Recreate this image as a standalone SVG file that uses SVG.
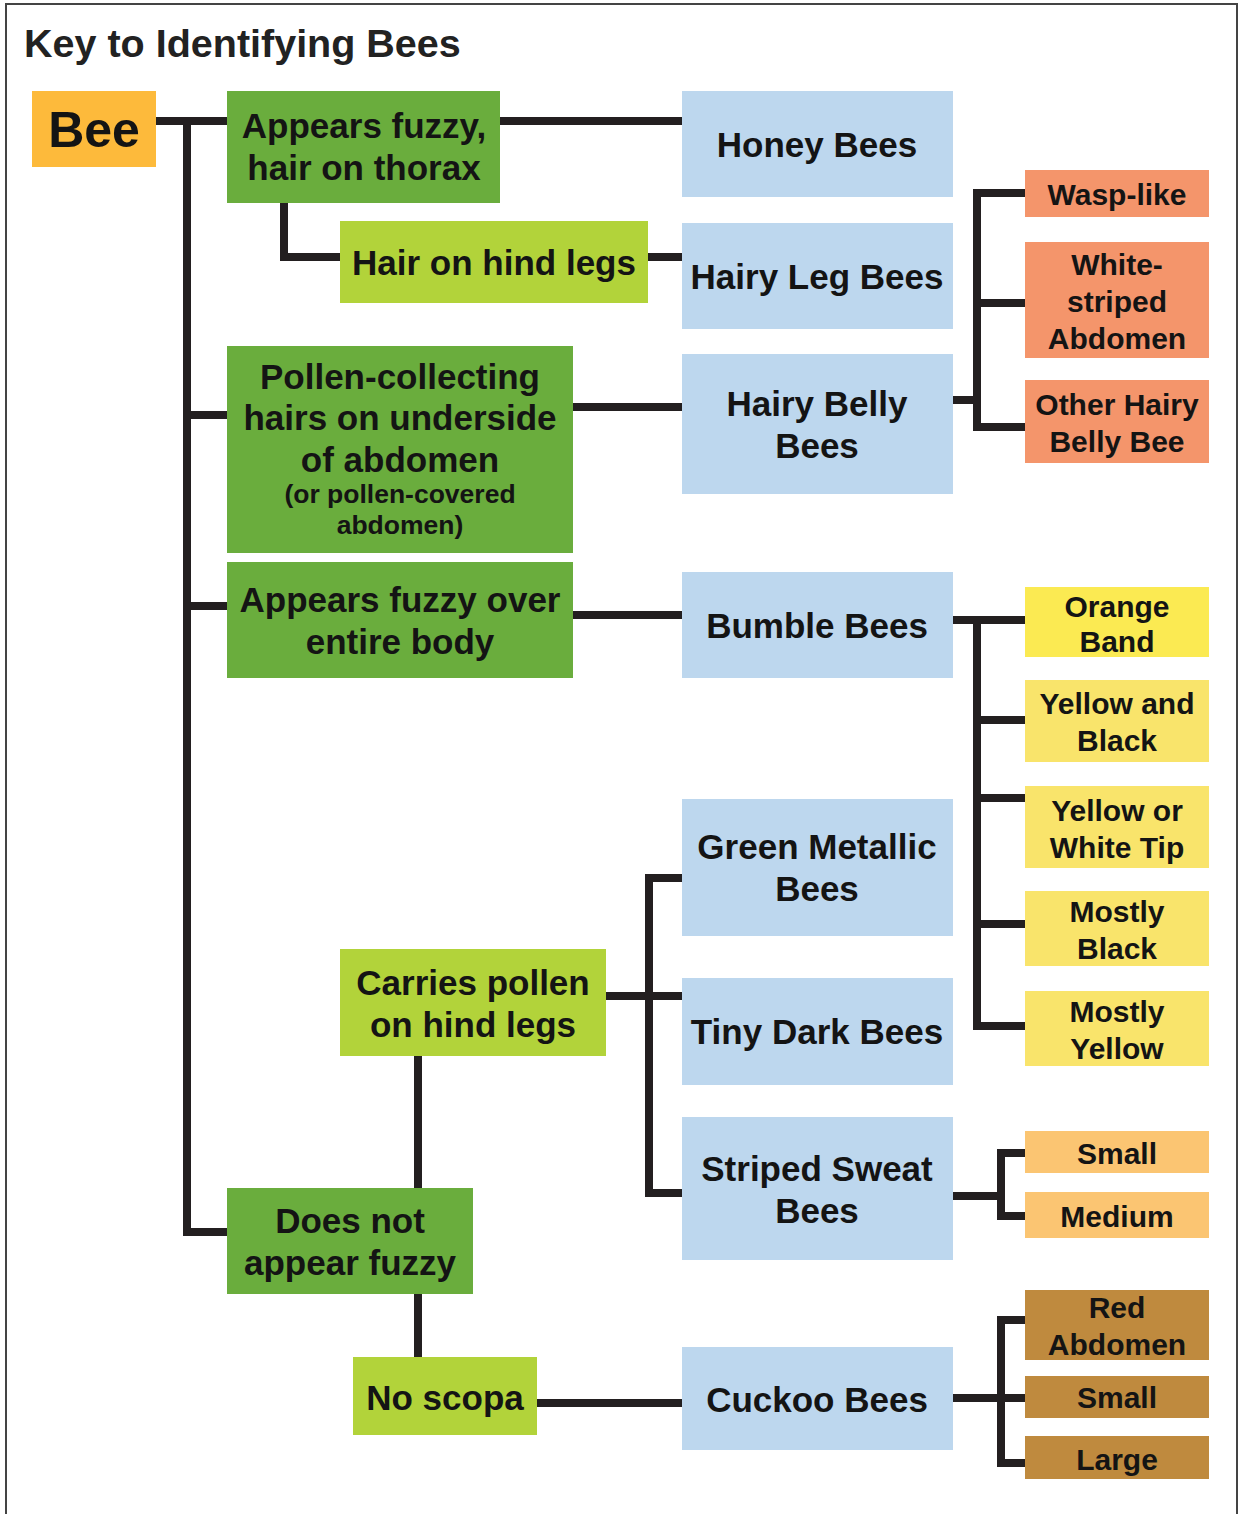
<svg xmlns="http://www.w3.org/2000/svg" width="1239" height="1514" viewBox="0 0 1239 1514">
<style>
text{font-family:"Liberation Sans",Arial,sans-serif;font-weight:bold;fill:#141414;text-anchor:middle}
.t{font-size:35px}
.s{font-size:26.5px}
.r{font-size:30px}
.c{fill:none;stroke:#231f20;stroke-width:8;stroke-linejoin:miter}
.dg{fill:#6aad3d}.lg{fill:#b2d33a}.bl{fill:#bdd7ee}.sa{fill:#f4956b}.ye{fill:#f9e46b}.yb{fill:#fbea52}.or{fill:#fbc572}.br{fill:#bf8a3e}
</style>
<rect x="6" y="4" width="1231" height="1530" fill="#fff" stroke="#444" stroke-width="2"/>
<text x="24" y="57" style="font-size:39.5px;text-anchor:start;fill:#222">Key to Identifying Bees</text>
<g id="connectors" class="c">
<path d="M156 121H227M187 121V1232H227M187 415H227M187 606H227"/>
<path d="M500 121H682"/>
<path d="M284 203V257H340M648 257H682"/>
<path d="M573 407H682M573 615H682"/>
<path d="M953 400H977M1025 193H977V427H1025M977 303H1025"/>
<path d="M953 620H1025M977 620V1026H1025M977 720H1025M977 798H1025M977 924H1025"/>
<path d="M606 996H682M682 878H649V1193H682"/>
<path d="M418 1056V1188M418 1294V1357"/>
<path d="M537 1403H682"/>
<path d="M953 1196H1001M1025 1153H1001V1216H1025"/>
<path d="M953 1398H1025M1025 1320H1001V1463H1025"/>
</g>
<g id="bee"><rect x="32" y="91" width="124" height="76" fill="#fdba3b"/><text x="94" y="147" style="font-size:50px">Bee</text></g>
<g id="thorax"><rect class="dg" x="227" y="91" width="273" height="112"/><text class="t" x="364" y="138">Appears fuzzy,</text><text class="t" x="364" y="180">hair on thorax</text></g>
<g id="hindlegs"><rect class="lg" x="340" y="221" width="308" height="82"/><text class="t" x="494" y="275">Hair on hind legs</text></g>
<g id="honey"><rect class="bl" x="682" y="91" width="271" height="106"/><text class="t" x="817" y="157">Honey Bees</text></g>
<g id="hairyleg"><rect class="bl" x="682" y="223" width="271" height="106"/><text class="t" x="817" y="289">Hairy Leg Bees</text></g>
<g id="pollen"><rect class="dg" x="227" y="346" width="346" height="207"/><text class="t" x="400" y="389">Pollen-collecting</text><text class="t" x="400" y="430">hairs on underside</text><text class="t" x="400" y="472">of abdomen</text><text class="s" x="400" y="503">(or pollen-covered</text><text class="s" x="400" y="534">abdomen)</text></g>
<g id="hairybelly"><rect class="bl" x="682" y="354" width="271" height="140"/><text class="t" x="817" y="416">Hairy Belly</text><text class="t" x="817" y="458">Bees</text></g>
<g id="fuzzyall"><rect class="dg" x="227" y="562" width="346" height="116"/><text class="t" x="400" y="612">Appears fuzzy over</text><text class="t" x="400" y="654">entire body</text></g>
<g id="bumble"><rect class="bl" x="682" y="572" width="271" height="106"/><text class="t" x="817" y="638">Bumble Bees</text></g>
<g id="green"><rect class="bl" x="682" y="799" width="271" height="137"/><text class="t" x="817" y="859">Green Metallic</text><text class="t" x="817" y="901">Bees</text></g>
<g id="carries"><rect class="lg" x="340" y="949" width="266" height="107"/><text class="t" x="473" y="995">Carries pollen</text><text class="t" x="473" y="1037">on hind legs</text></g>
<g id="tiny"><rect class="bl" x="682" y="978" width="271" height="107"/><text class="t" x="817" y="1044">Tiny Dark Bees</text></g>
<g id="striped"><rect class="bl" x="682" y="1117" width="271" height="143"/><text class="t" x="817" y="1181">Striped Sweat</text><text class="t" x="817" y="1223">Bees</text></g>
<g id="notfuzzy"><rect class="dg" x="227" y="1188" width="246" height="106"/><text class="t" x="350" y="1233">Does not</text><text class="t" x="350" y="1275">appear fuzzy</text></g>
<g id="noscopa"><rect class="lg" x="353" y="1357" width="184" height="78"/><text class="t" x="445" y="1410">No scopa</text></g>
<g id="cuckoo"><rect class="bl" x="682" y="1347" width="271" height="103"/><text class="t" x="817" y="1412">Cuckoo Bees</text></g>
<g id="wasp"><rect class="sa" x="1025" y="170" width="184" height="47"/><text class="r" x="1117" y="205">Wasp-like</text></g>
<g id="white"><rect class="sa" x="1025" y="242" width="184" height="116"/><text class="r" x="1117" y="275">White-</text><text class="r" x="1117" y="312">striped</text><text class="r" x="1117" y="349">Abdomen</text></g>
<g id="other"><rect class="sa" x="1025" y="380" width="184" height="83"/><text class="r" x="1117" y="415">Other Hairy</text><text class="r" x="1117" y="452">Belly Bee</text></g>
<g id="orange"><rect class="yb" x="1025" y="587" width="184" height="70"/><text class="r" x="1117" y="617">Orange</text><text class="r" x="1117" y="652">Band</text></g>
<g id="yellowblack"><rect class="ye" x="1025" y="680" width="184" height="82"/><text class="r" x="1117" y="714">Yellow and</text><text class="r" x="1117" y="751">Black</text></g>
<g id="yellowtip"><rect class="ye" x="1025" y="786" width="184" height="82"/><text class="r" x="1117" y="821">Yellow or</text><text class="r" x="1117" y="858">White Tip</text></g>
<g id="mostlyblack"><rect class="ye" x="1025" y="891" width="184" height="75"/><text class="r" x="1117" y="922">Mostly</text><text class="r" x="1117" y="959">Black</text></g>
<g id="mostlyyellow"><rect class="ye" x="1025" y="991" width="184" height="75"/><text class="r" x="1117" y="1022">Mostly</text><text class="r" x="1117" y="1059">Yellow</text></g>
<g id="small1"><rect class="or" x="1025" y="1131" width="184" height="42"/><text class="r" x="1117" y="1164">Small</text></g>
<g id="medium"><rect class="or" x="1025" y="1192" width="184" height="46"/><text class="r" x="1117" y="1227">Medium</text></g>
<g id="red"><rect class="br" x="1025" y="1290" width="184" height="70"/><text class="r" x="1117" y="1318">Red</text><text class="r" x="1117" y="1355">Abdomen</text></g>
<g id="small2"><rect class="br" x="1025" y="1376" width="184" height="42"/><text class="r" x="1117" y="1408">Small</text></g>
<g id="large"><rect class="br" x="1025" y="1436" width="184" height="43"/><text class="r" x="1117" y="1470">Large</text></g>
</svg>
